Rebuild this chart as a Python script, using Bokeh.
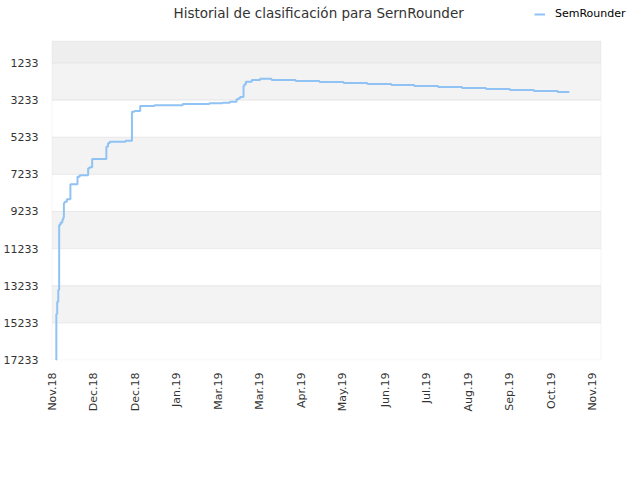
import math
from bokeh.plotting import figure
from bokeh.models import Range1d, FixedTicker, BoxAnnotation, Legend, LegendItem, Label
from bokeh.embed import file_html
from bokeh.resources import INLINE

# Data (days since first x tick, rank)
days = [2.5, 2.6, 3.2, 3.9, 4.5, 5.4, 6.6, 7.2, 7.7, 8.3, 9.7, 12.1, 16.9, 18.4,
        24.1, 25.1, 26.8, 36.4, 37.5, 38.6, 49.4, 53.7, 55.4, 59.3, 68.9, 88.0,
        106.0, 115.0, 119.9, 124.4, 125.7, 126.8, 129.1, 129.7, 130.7, 134.7,
        140.3, 148.0, 164.3, 180.5, 196.7, 212.8, 229.0, 244.5, 260.6, 276.8,
        293.0, 309.1, 325.3, 341.4, 349.3]
ranks = [17233, 14754, 14092, 13462, 9960, 9836, 9691, 9567, 8775, 8705, 8576, 7760, 7358, 7283,
         6906, 6852, 6405, 5742, 5560, 5473, 5419, 3856, 3819, 3549, 3512, 3442,
         3404, 3372, 3318, 3188, 3135, 3065, 2472, 2380, 2240, 2149,
         2079, 2149, 2203, 2257, 2310, 2364, 2418, 2472, 2526, 2580,
         2634, 2688, 2742, 2796, 2796]

y_ticks = [1233, 3233, 5233, 7233, 9233, 11233, 13233, 15233, 17233]
x_tick_days = [0, 28, 56, 84, 112, 140, 168, 196, 225, 253, 281, 309, 337, 365]
x_tick_labels = ["Nov.18", "Dec.18", "Dec.18", "Jan.19", "Mar.19", "Mar.19", "Apr.19",
                 "May.19", "Jun.19", "Jul.19", "Aug.19", "Sep.19", "Oct.19", "Nov.19"]
x_start, x_end = -0.34, 370.7
band_edges = [48, 1233, 3233, 5233, 7233, 9233, 11233, 13233, 15233, 17233]
band_colors = ["#eeeeee", "#f3f3f3", "#ffffff", "#f3f3f3", "#ffffff", "#f3f3f3",
               "#ffffff", "#f3f3f3", "#ffffff"]

title_text = "Historial de clasificación para SernRounder"
series_name = "SemRounder"

# The frame covers the canvas up to its top and right edges so that title and
# legend (drawn in the frame) stay visible; the plot area proper is drawn as
# bands plus outlined boxes (grid lines and border).
p = figure(width=640, height=480, output_backend="svg", toolbar_location=None,
           x_range=Range1d(-1.35, 397.4), y_range=Range1d(17260, -2134),
           min_border_left=49, min_border_right=0, min_border_top=0,
           min_border_bottom=120)

p.outline_line_color = None
p.background_fill_color = "#ffffff"
p.border_fill_color = "#ffffff"
p.xgrid.visible = False
p.ygrid.visible = False

for i in range(len(band_colors)):
    p.add_layout(BoxAnnotation(left=x_start, right=x_end,
                               top=band_edges[i], bottom=band_edges[i + 1],
                               fill_color=band_colors[i], fill_alpha=1.0,
                               line_color=None, level="underlay"))
for i in range(len(band_colors)):
    p.add_layout(BoxAnnotation(left=x_start, right=x_end,
                               top=band_edges[i], bottom=band_edges[i + 1],
                               fill_color=None, fill_alpha=0,
                               line_color="#dcdcdc", line_width=1, level="underlay"))

r = p.step(days, ranks, mode="after", line_color="#90c3f4", line_width=2)

p.yaxis.ticker = FixedTicker(ticks=y_ticks)
p.xaxis.ticker = FixedTicker(ticks=x_tick_days)
p.xaxis.major_label_overrides = {d: l for d, l in zip(x_tick_days, x_tick_labels)}
p.xaxis.major_label_orientation = math.pi / 2
for ax in (p.xaxis[0], p.yaxis[0]):
    ax.axis_line_color = None
    ax.major_tick_line_color = None
    ax.minor_tick_line_color = None
    ax.major_label_text_font = "DejaVu Sans"
    ax.major_label_text_font_size = "11px"
    ax.major_label_text_color = "#333333"
    ax.major_label_standoff = 6

title_label = Label(x=123, y=348, x_units="screen", y_units="screen",
                    text=title_text, text_font="DejaVu Sans", text_font_size="13.5px",
                    text_color="#333333", text_baseline="middle", text_align="left")
p.add_layout(title_label)

legend = Legend(items=[LegendItem(label=series_name, renderers=[r])],
                location=(484, 340), orientation="horizontal",
                border_line_color=None, background_fill_alpha=0,
                label_text_font="DejaVu Sans", label_text_font_size="11px",
                label_text_color="#000000", glyph_width=11, glyph_height=10,
                label_standoff=10, padding=2, margin=0)
p.add_layout(legend, "center")

open("out.html", "w").write(file_html(p, INLINE))
